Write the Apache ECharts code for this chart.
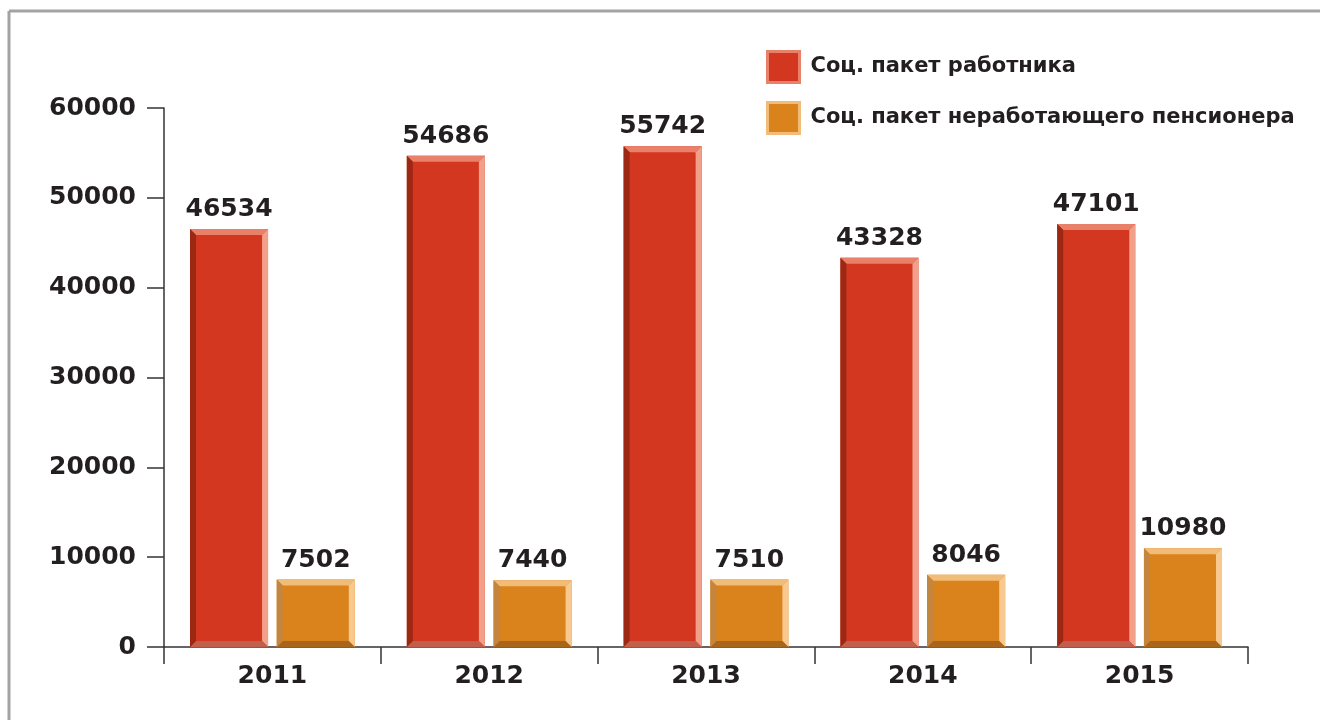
<!DOCTYPE html>
<html>
<head>
<meta charset="utf-8">
<script src="https://cdn.jsdelivr.net/npm/echarts@6/dist/echarts.min.js"></script>
<style>
  html, body { margin: 0; padding: 0; background: #fff; }
  #chart { width: 1320px; height: 720px; }
</style>
</head>
<body>
<div id="chart"></div>
<script>
// Years on the category axis
const years = ['2011', '2012', '2013', '2014', '2015'];
// Cost of the social package, per year
const workerValues = [46534, 54686, 55742, 43328, 47101];
const pensionerValues = [7502, 7440, 7510, 8046, 10980];
const seriesNames = ['Соц. пакет работника', 'Соц. пакет неработающего пенсионера'];
// Value axis ticks
const yTicks = [0, 10000, 20000, 30000, 40000, 50000, 60000];

const FONT = 'DejaVu Sans';
const TEXT = '#231f20';

// Bevel palettes: face, top, right, bottom, left
const palettes = [
  { face: '#d4371f', top: '#e8806a', right: '#f2a08a', bottom: '#c0604c', left: '#9c2814' },
  { face: '#da821b', top: '#f0bc78', right: '#f7c98e', bottom: '#a8661c', left: '#c4863e' }
];

function bevelBar(offsetFrac, widthFrac, pal) {
  return function (params, api) {
    const cat = api.value(0);
    const val = api.value(1);
    const topPt = api.coord([cat, val]);
    const basePt = api.coord([cat, 0]);
    const catW = api.size([1, 0])[0];
    const w = catW * widthFrac;
    const cx = topPt[0] + catW * offsetFrac;
    const x0 = cx - w / 2, x1 = cx + w / 2;
    const y0 = topPt[1], y1 = basePt[1];
    const b = 6;
    return {
      type: 'group',
      children: [
        { type: 'rect', shape: { x: x0, y: y0, width: w, height: y1 - y0 }, style: { fill: pal.face } },
        { type: 'polygon', shape: { points: [[x0, y0], [x1, y0], [x1 - b, y0 + b], [x0 + b, y0 + b]] }, style: { fill: pal.top } },
        { type: 'polygon', shape: { points: [[x1, y0], [x1, y1], [x1 - b, y1 - b], [x1 - b, y0 + b]] }, style: { fill: pal.right } },
        { type: 'polygon', shape: { points: [[x0, y1], [x1, y1], [x1 - b, y1 - b], [x0 + b, y1 - b]] }, style: { fill: pal.bottom } },
        { type: 'polygon', shape: { points: [[x0, y0], [x0 + b, y0 + b], [x0 + b, y1 - b], [x0, y1]] }, style: { fill: pal.left } },
        {
          type: 'text',
          style: {
            x: cx, y: y0 - 7, text: String(val),
            textAlign: 'center', textVerticalAlign: 'bottom',
            font: 'bold 25px "' + FONT + '"', fill: TEXT
          }
        }
      ]
    };
  };
}

const chart = echarts.init(document.getElementById('chart'), null, { renderer: 'canvas' });

chart.setOption({
  animation: false,
  backgroundColor: '#ffffff',
  graphic: [
    { type: 'line', shape: { x1: 9, y1: 11, x2: 1320, y2: 11 }, style: { stroke: '#a3a3a5', lineWidth: 3 } },
    { type: 'line', shape: { x1: 9, y1: 11, x2: 9, y2: 720 }, style: { stroke: '#a3a3a5', lineWidth: 3 } }
  ],
  legend: {
    orient: 'vertical',
    left: 766, top: 50, padding: 0,
    itemWidth: 32, itemHeight: 31, itemGap: 17,
    icon: 'rect',
    textStyle: { fontFamily: FONT, fontSize: 21, fontWeight: 'bold', color: TEXT, padding: [0, 0, 0, 6] },
    data: [
      { name: seriesNames[0], itemStyle: { color: palettes[0].face, borderColor: palettes[0].top, borderWidth: 3 } },
      { name: seriesNames[1], itemStyle: { color: palettes[1].face, borderColor: palettes[1].top, borderWidth: 3 } }
    ]
  },
  grid: { left: 164, right: 72, top: 108, bottom: 73 },
  xAxis: {
    type: 'category',
    data: years,
    boundaryGap: true,
    axisLine: { lineStyle: { color: '#333', width: 1.5 } },
    axisTick: { show: true, interval: 0, alignWithLabel: false, length: 17, lineStyle: { color: '#333', width: 1.5 } },
    axisLabel: { fontFamily: FONT, fontSize: 25, fontWeight: 'bold', color: TEXT, margin: 17 }
  },
  yAxis: {
    type: 'value',
    min: yTicks[0], max: yTicks[yTicks.length - 1], interval: 10000,
    splitLine: { show: false },
    axisLine: { show: true, lineStyle: { color: '#333', width: 1.5 } },
    axisTick: { show: true, length: 17, lineStyle: { color: '#333', width: 1.5 } },
    axisLabel: { fontFamily: FONT, fontSize: 25, fontWeight: 'bold', color: TEXT, margin: 28, formatter: v => String(v) }
  },
  series: [
    {
      name: seriesNames[0], type: 'custom',
      itemStyle: { color: palettes[0].face },
      renderItem: bevelBar(-0.2, 0.36, palettes[0]),
      encode: { x: 0, y: 1 },
      data: workerValues.map((v, i) => [i, v])
    },
    {
      name: seriesNames[1], type: 'custom',
      itemStyle: { color: palettes[1].face },
      renderItem: bevelBar(0.2, 0.36, palettes[1]),
      encode: { x: 0, y: 1 },
      data: pensionerValues.map((v, i) => [i, v])
    }
  ]
});
</script>
</body>
</html>
